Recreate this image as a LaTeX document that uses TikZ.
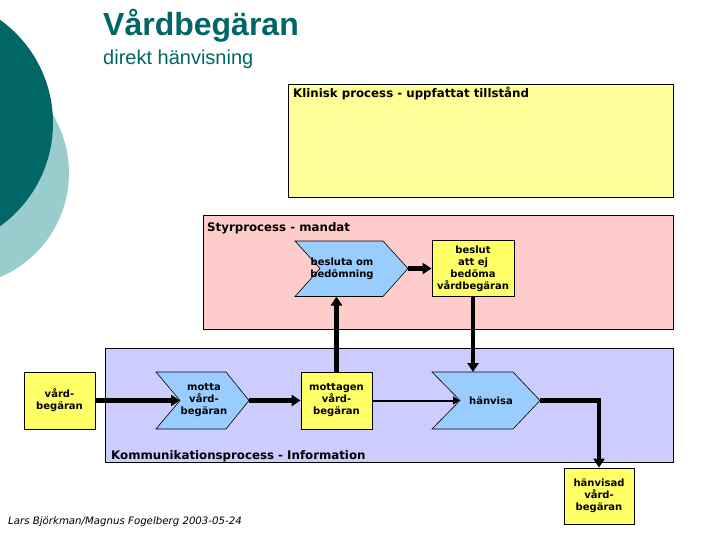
\documentclass[tikz,border=0pt]{standalone}
\usepackage{fontspec}
\setmainfont{Liberation Sans}
\newfontfamily\lab{DejaVu Sans}
\usetikzlibrary{arrows.meta}
\definecolor{tealdark}{RGB}{0,102,102}
\definecolor{teallight}{RGB}{153,204,204}
\definecolor{kyellow}{RGB}{255,255,153}
\definecolor{nyellow}{RGB}{255,255,102}
\definecolor{spink}{RGB}{255,204,204}
\definecolor{kblue}{RGB}{204,204,255}
\definecolor{cblue}{RGB}{153,204,255}
\begin{document}
\begin{tikzpicture}[x=1pt,y=-1pt,
  region/.style={draw=black, line width=0.8pt},
  rtitle/.style={anchor=base west, inner sep=0pt, font=\lab\bfseries\fontsize{11.8}{14}\selectfont},
  ybox/.style={draw=black, fill=nyellow, line width=0.8pt, inner sep=0pt, align=center,
    font=\lab\bfseries\fontsize{10}{12}\selectfont},
  chev/.style={draw=black, fill=cblue, line width=0.6pt},
  chevtext/.style={inner sep=0pt, align=center, font=\lab\bfseries\fontsize{10}{12}\selectfont},
  conn/.style={line width=4.2pt, -{Triangle[length=9pt,width=11pt]}},
  thinconn/.style={line width=2pt, -{Triangle[length=7pt,width=8pt]}}
]
\useasboundingbox (0,0) rectangle (720,540);
\fill[white] (0,0) rectangle (720,540);
% decorative circles
\begin{scope}
  \clip (0,0) rectangle (720,540);
  \fill[teallight] (-44,173) circle (113pt);
  \fill[tealdark] (-74,123) circle (127pt);
\end{scope}
% titles
\node[anchor=base west, inner sep=0pt, text=tealdark, font=\bfseries\fontsize{32}{36}\selectfont] (title) at (103,36) {Vårdbegäran};
\node[anchor=base west, inner sep=0pt, text=tealdark, font=\fontsize{20}{24}\selectfont] (subtitle) at (103,65) {direkt hänvisning};
% regions
\draw[region, fill=kyellow] (288,84) rectangle (673,197);
\node[rtitle] (klintitle) at (293,97.5) {Klinisk process - uppfattat tillstånd};
\draw[region, fill=spink] (203,215) rectangle (673,329);
\node[rtitle] (styrtitle) at (207,231) {Styrprocess - mandat};
\draw[region, fill=kblue] (105,348) rectangle (673,462);
\node[rtitle] (kommtitle) at (111,459) {Kommunikationsprocess - Information};
% chevrons
\draw[chev] (295,241) -- (383,241) -- (408,268.5) -- (383,296.5) -- (295,296.5) -- (320,268.5) -- cycle;
\coordinate (beslutaTip) at (408,268.5);
\coordinate (beslutaBot) at (336.5,296.5);
\node[chevtext] (besluta) at (342,269) {besluta om\\bedömning};
\draw[chev] (156,372) -- (226,372) -- (249,400.5) -- (226,429) -- (156,429) -- (180,400.5) -- cycle;
\coordinate (mottaNotch) at (180,400.5);
\coordinate (mottaTip) at (249,400.5);
\node[chevtext] (motta) at (204,400.5) {motta\\vård-\\begäran};
\draw[chev] (432,372) -- (513,372) -- (540,400.5) -- (513,429) -- (432,429) -- (460,400.5) -- cycle;
\coordinate (hanvisaNotch) at (460,400.5);
\coordinate (hanvisaTip) at (540,400.5);
\coordinate (hanvisaTop) at (473,372);
\node[chevtext] (hanvisa) at (491,400.5) {hänvisa};
% boxes
\node[ybox, minimum width=71pt, minimum height=57pt] (vb) at (59.5,400.5) {vård-\\begäran};
\node[ybox, minimum width=71pt, minimum height=57pt] (mottagen) at (336.5,400.5) {mottagen\\vård-\\begäran};
\node[ybox, minimum width=82pt, minimum height=56.5pt] (beslut) at (473,268.5) {beslut\\att ej\\bedöma\\vårdbegäran};
\node[ybox, minimum width=70pt, minimum height=56pt] (hanvisad) at (599,496) {hänvisad\\vård-\\begäran};
% connectors
\draw[conn] (vb.east) -- (mottaNotch);
\draw[conn] (mottaTip) -- (mottagen.west);
\draw[conn] (mottagen.north) -- (beslutaBot);
\draw[conn] (beslutaTip) -- (beslut.west);
\draw[conn] (beslut.south) -- (hanvisaTop);
\draw[thinconn] (mottagen.east) -- (hanvisaNotch);
\draw[conn] (hanvisaTip) -| (hanvisad.north);
% footer
\node[anchor=base west, inner sep=0pt, font=\lab\itshape\fontsize{10.2}{12}\selectfont] (footer) at (8,524) {Lars Björkman/Magnus Fogelberg 2003-05-24};
\end{tikzpicture}
\end{document}
